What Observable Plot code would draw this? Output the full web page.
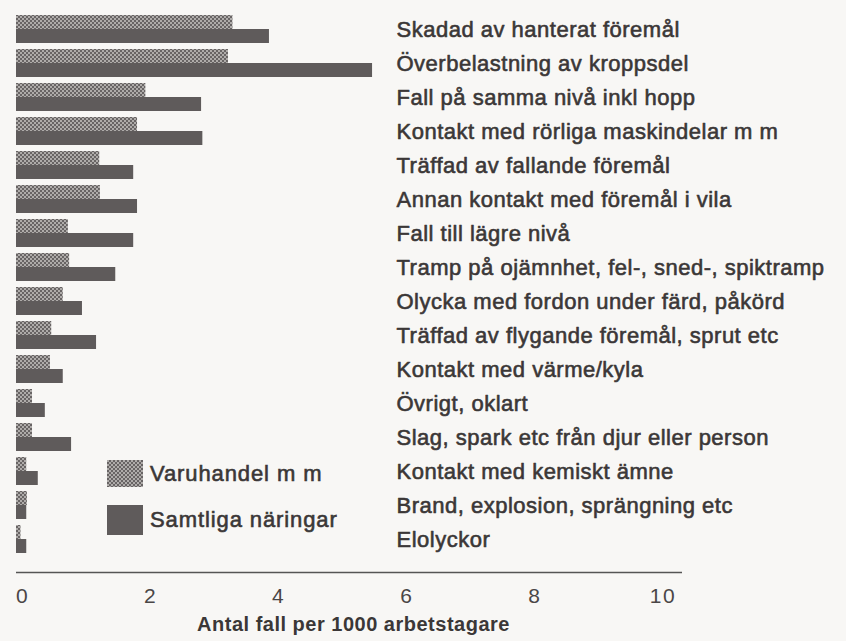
<!DOCTYPE html>
<html><head><meta charset="utf-8">
<script src="https://cdn.jsdelivr.net/npm/d3@7"></script>
<script src="https://cdn.jsdelivr.net/npm/@observablehq/plot@0.6"></script>
<style>
body{margin:0;background:#f8f7f5;}
#wrap{position:relative;width:846px;height:641px;font-family:"Liberation Sans",Arial,sans-serif;}
.lg{position:absolute;display:flex;align-items:center;color:#3b3737;font-size:22px;letter-spacing:0.9px;-webkit-text-stroke:0.6px #3b3737;}
.lg svg{display:block;margin-right:7px;}
</style></head><body><div id="wrap"></div>
<script>
const categories = [
  "Skadad av hanterat föremål",
  "Överbelastning av kroppsdel",
  "Fall på samma nivå inkl hopp",
  "Kontakt med rörliga maskindelar m m",
  "Träffad av fallande föremål",
  "Annan kontakt med föremål i vila",
  "Fall till lägre nivå",
  "Tramp på ojämnhet, fel-, sned-, spiktramp",
  "Olycka med fordon under färd, påkörd",
  "Träffad av flygande föremål, sprut etc",
  "Kontakt med värme/kyla",
  "Övrigt, oklart",
  "Slag, spark etc från djur eller person",
  "Kontakt med kemiskt ämne",
  "Brand, explosion, sprängning etc",
  "Elolyckor"
];
const varuhandel = [3.38, 3.31, 2.02, 1.89, 1.30, 1.31, 0.81, 0.83, 0.73, 0.55, 0.53, 0.25, 0.25, 0.16, 0.17, 0.07];
const samtliga   = [3.95, 5.56, 2.89, 2.91, 1.83, 1.89, 1.83, 1.55, 1.03, 1.25, 0.73, 0.45, 0.86, 0.34, 0.16, 0.16];
const xTicks = [0, 2, 4, 6, 8, 10];
const seriesNames = ["Varuhandel m m", "Samtliga näringar"];
const axisTitle = "Antal fall per 1000 arbetstagare";

const rows = categories.map((c, i) => ({category: c, varuhandel: varuhandel[i], samtliga: samtliga[i]}));
const ink = "#3b3737";
const frameTop = 15, frameBottom = 572;

const svg = Plot.plot({
  width: 846, height: 641,
  marginLeft: 16, marginRight: 164, marginTop: frameTop, marginBottom: 641 - frameBottom,
  style: {background: "transparent", fontFamily: "'Liberation Sans', Arial, sans-serif", color: ink},
  x: {domain: [0, 10.4], ticks: xTicks, axis: null},
  y: {domain: categories, paddingInner: 0.176, paddingOuter: 0.279, align: 0, axis: null},
  marks: [
    Plot.barX(rows, {y: "category", x: "varuhandel", fill: "url(#vh-pattern)", insetBottom: 14}),
    Plot.barX(rows, {y: "category", x: "samtliga", fill: "#5f5b5b", insetTop: 14}),
    Plot.text(rows, {y: "category", text: "category", frameAnchor: "left", dx: 380, textAnchor: "start",
      fontSize: 22, fill: ink, stroke: ink, strokeWidth: 0.6, className: "cat-label"}),
    Plot.axisX({ticks: xTicks, tickSize: 0, tickPadding: 16, fontSize: 21, dx: 6, fill: "#4a4646", label: null}),
    Plot.ruleY([0], {y: null, dy: (frameBottom - frameTop) / 2, stroke: "#555", strokeWidth: 1.6}),
    Plot.text([axisTitle], {frameAnchor: "bottom", dy: 58, dx: 4, fontSize: 20, fontWeight: "bold", fill: ink,
      className: "axis-title"})
  ]
});

const defs = document.createElementNS("http://www.w3.org/2000/svg", "defs");
defs.innerHTML = `<pattern id="vh-pattern" width="4" height="4" patternUnits="userSpaceOnUse">
  <rect width="4" height="4" fill="#686464"/>
  <circle cx="1" cy="1" r="0.95" fill="#cdcac7"/>
  <circle cx="3" cy="3" r="0.95" fill="#cdcac7"/></pattern>`;
svg.prepend(defs);
svg.querySelectorAll('[aria-label="x-axis tick label"] text').forEach(t => t.style.letterSpacing = "1.5px");
svg.querySelectorAll('.cat-label text').forEach(t => t.style.letterSpacing = "0.5px");
svg.querySelectorAll('.axis-title text').forEach(t => t.style.letterSpacing = "0.5px");

const wrap = document.getElementById("wrap");
wrap.appendChild(svg);

const legendItems = [
  {name: seriesNames[0], fill: "url(#vh-pattern)", top: 460, h: 27},
  {name: seriesNames[1], fill: "#5f5b5b", top: 505, h: 30}
];
legendItems.forEach(it => {
  const d = document.createElement("div");
  d.className = "lg";
  d.style.left = "107px";
  d.style.top = it.top + "px";
  d.style.height = it.h + "px";
  d.innerHTML = `<svg width="36" height="${it.h}"><rect width="36" height="${it.h}" fill="${it.fill}"/></svg><span>${it.name}</span>`;
  wrap.appendChild(d);
});
</script></body></html>
